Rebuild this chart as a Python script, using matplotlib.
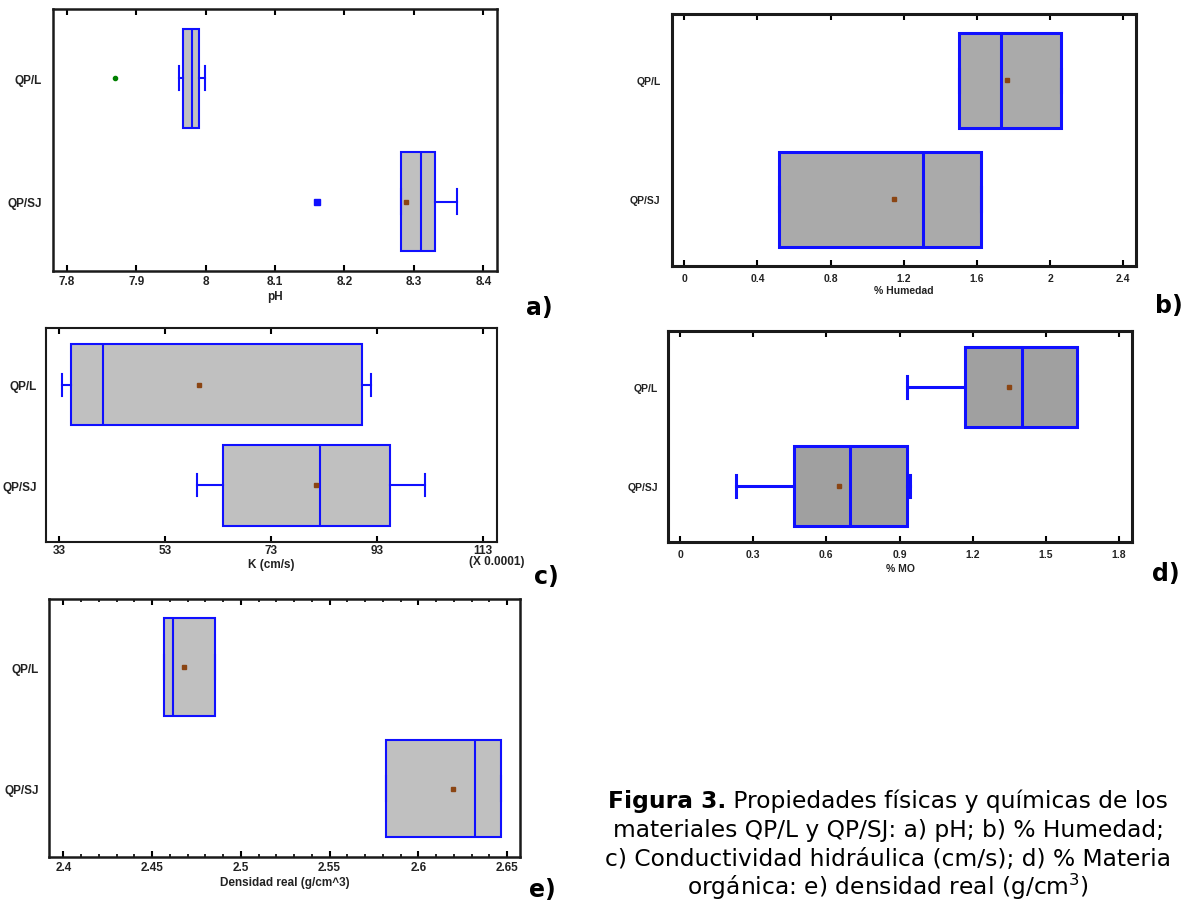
import matplotlib
matplotlib.use('Agg')
import matplotlib.pyplot as plt
from matplotlib.ticker import FuncFormatter, MultipleLocator


W, H = 1189, 903
plt.rcParams['font.family'] = ['Liberation Sans', 'DejaVu Sans']

groups = ['QP/L', 'QP/SJ']
pos = [1, 0]  # QP/L on top

# a) pH
ph_lo = [7.962, 8.281]
ph_q1 = [7.968, 8.281]
ph_med = [7.981, 8.310]
ph_q3 = [7.990, 8.331]
ph_hi = [7.999, 8.362]
ph_mean = [None, 8.289]
ph_out = [[7.870], [8.160]]
ph_ticks = [7.8, 7.9, 8.0, 8.1, 8.2, 8.3, 8.4]

# b) % Humedad
hum_lo = [1.504, 0.518]
hum_q1 = [1.504, 0.518]
hum_med = [1.732, 1.303]
hum_q3 = [2.058, 1.620]
hum_hi = [2.058, 1.620]
hum_mean = [1.766, 1.147]
hum_ticks = [0, 0.4, 0.8, 1.2, 1.6, 2.0, 2.4]

# c) K (cm/s) x 0.0001
k_lo = [33.6, 59.1]
k_q1 = [35.2, 64.0]
k_med = [41.3, 82.3]
k_q3 = [90.2, 95.4]
k_hi = [91.9, 102.0]
k_mean = [59.5, 81.4]
k_ticks = [33, 53, 73, 93, 113]

# d) % MO
mo_lo = [0.930, 0.228]
mo_q1 = [1.169, 0.469]
mo_med = [1.404, 0.696]
mo_q3 = [1.629, 0.932]
mo_hi = [1.629, 0.943]
mo_mean = [1.349, 0.653]
mo_ticks = [0, 0.3, 0.6, 0.9, 1.2, 1.5, 1.8]

# e) densidad real
dr_lo = [2.4568, 2.5817]
dr_q1 = [2.4568, 2.5817]
dr_med = [2.4620, 2.6317]
dr_q3 = [2.4855, 2.6468]
dr_hi = [2.4855, 2.6468]
dr_mean = [2.4682, 2.6198]
dr_ticks = [2.4, 2.45, 2.5, 2.55, 2.6, 2.65]

blue = '#1010ff'
brown = '#8b4513'


def rect(l, t, r, b):
    return [l / W, 1 - b / H, (r - l) / W, (b - t) / H]


def panel(rc, lo, q1, med, q3, hi, mean, xlim, xticks, xlabel, out=None,
          fly=None, fill='#c0c0c0', lw=1.5, spine_lw=1.8, fs=8.5,
          tickpad=3, labelpad=2, ypad=8, capw=0.2):
    ax = fig.add_axes(rect(*rc))
    for i, g in enumerate(groups):
        st = dict(label=g, whislo=lo[i], q1=q1[i], med=med[i], q3=q3[i],
                  whishi=hi[i], fliers=out[i] if out else [])
        if mean[i] is not None:
            st['mean'] = mean[i]
        ax.bxp([st], positions=[pos[i]], widths=0.8,
               orientation='horizontal', patch_artist=True,
               showmeans=mean[i] is not None, showfliers=True,
               capwidths=capw, manage_ticks=False,
               boxprops=dict(facecolor=fill, edgecolor=blue, linewidth=lw),
               medianprops=dict(color=blue, linewidth=lw),
               whiskerprops=dict(color=blue, linewidth=lw),
               capprops=dict(color=blue, linewidth=lw),
               meanprops=dict(marker='s', markersize=2.5,
                              markerfacecolor=brown, markeredgecolor=brown),
               flierprops=fly[i] if fly else {})
    ax.set_xlim(xlim)
    ax.set_ylim(-0.56, 1.56)
    ax.set_xticks(xticks)
    ax.xaxis.set_major_formatter(FuncFormatter(lambda v, p: '%g' % v))
    ax.set_yticks(pos, groups)
    ax.tick_params(axis='x', direction='in', top=True, length=4, width=1.5,
                   pad=tickpad, labelsize=fs, labelcolor='#222222')
    ax.tick_params(axis='y', length=0, pad=ypad, labelsize=fs,
                   labelcolor='#222222')
    for lab in ax.get_xticklabels() + ax.get_yticklabels():
        lab.set_fontweight('bold')
    for s in ax.spines.values():
        s.set_linewidth(spine_lw)
        s.set_color('#1a1a1a')
    ax.set_xlabel(xlabel, fontsize=fs, fontweight='bold', color='#222222',
                  labelpad=labelpad)
    return ax


fig = plt.figure(figsize=(W / 100, H / 100), dpi=100)

# a) pH
fly_a = [dict(marker='o', markersize=3, markerfacecolor='#008000',
              markeredgecolor='#008000'),
         dict(marker='s', markersize=4.5, markerfacecolor=blue,
              markeredgecolor=blue)]
panel((53.3, 10, 496.7, 271.7), ph_lo, ph_q1, ph_med, ph_q3, ph_hi, ph_mean,
      (7.7807, 8.4193), ph_ticks, 'pH', out=ph_out, fly=fly_a,
      ypad=8, capw=0.2)

# b) % Humedad
panel((671.7, 15, 1135.7, 266.7), hum_lo, hum_q1, hum_med, hum_q3, hum_hi,
      hum_mean, (-0.069, 2.468), hum_ticks, '% Humedad', fill='#aaaaaa',
      lw=2.2, spine_lw=2.2, fs=7.5, tickpad=5, ypad=8)

# c) K
panel((45.7, 329.3, 497, 542.7), k_lo, k_q1, k_med, k_q3, k_hi, k_mean,
      (30.5, 115.6), k_ticks, 'K (cm/s)', lw=1.5, spine_lw=1.5,
      tickpad=2, labelpad=1, ypad=6.5, capw=0.22)
fig.text(497 / W, 1 - 562 / H, '(X 0.0001)', ha='center', va='center',
         fontsize=8.5, fontweight='bold', color='#222222')

# d) % MO
panel((668.3, 332.3, 1131.7, 542.7), mo_lo, mo_q1, mo_med, mo_q3, mo_hi,
      mo_mean, (-0.048, 1.852), mo_ticks, '% MO', fill='#a0a0a0',
      lw=2.2, spine_lw=2.2, fs=7.5, tickpad=5, labelpad=3, ypad=7.5,
      capw=0.22)

# e) densidad real
ax_e = panel((49.3, 600, 519.8, 857.7), dr_lo, dr_q1, dr_med, dr_q3, dr_hi,
             dr_mean, (2.3921, 2.6572), dr_ticks, 'Densidad real (g/cm^3)',
             lw=1.5, spine_lw=1.8, tickpad=3, ypad=7.5)
ax_e.xaxis.set_minor_locator(MultipleLocator(0.01))
ax_e.tick_params(axis='x', which='minor', direction='in', top=True,
                 length=2.5, width=1.2)

# panel letters
for lab, x, y in [('a)', 539.5, 308), ('b)', 1169, 306), ('c)', 546, 577),
                  ('d)', 1165.5, 574), ('e)', 542, 890)]:
    fig.text(x / W, 1 - y / H, lab, ha='center', va='center', fontsize=17,
             fontweight='bold', family='DejaVu Sans')

# caption
cfs = 16.8
cx = 888
rend = fig.canvas.get_renderer()
t1 = fig.text(0, 1 - 808 / H, 'Figura 3.', fontsize=cfs,
              fontweight='bold', family='DejaVu Sans', va='baseline')
t2 = fig.text(0, 1 - 808 / H, ' Propiedades físicas y químicas de los',
              fontsize=cfs, family='DejaVu Sans', va='baseline')
w1 = t1.get_window_extent(rend).width
w2 = t2.get_window_extent(rend).width
x0 = cx - (w1 + w2) / 2
t1.set_x(x0 / W)
t2.set_x((x0 + w1) / W)
lines = ['materiales QP/L y QP/SJ: a) pH; b) % Humedad;',
         'c) Conductividad hidráulica (cm/s); d) % Materia',
         'orgánica: e) densidad real (g/cm$^{3}$)']
for txt, y in zip(lines, [837, 866, 895]):
    fig.text(cx / W, 1 - y / H, txt, fontsize=cfs, family='DejaVu Sans',
             ha='center', va='baseline')

fig.savefig('out.png', dpi=100)
